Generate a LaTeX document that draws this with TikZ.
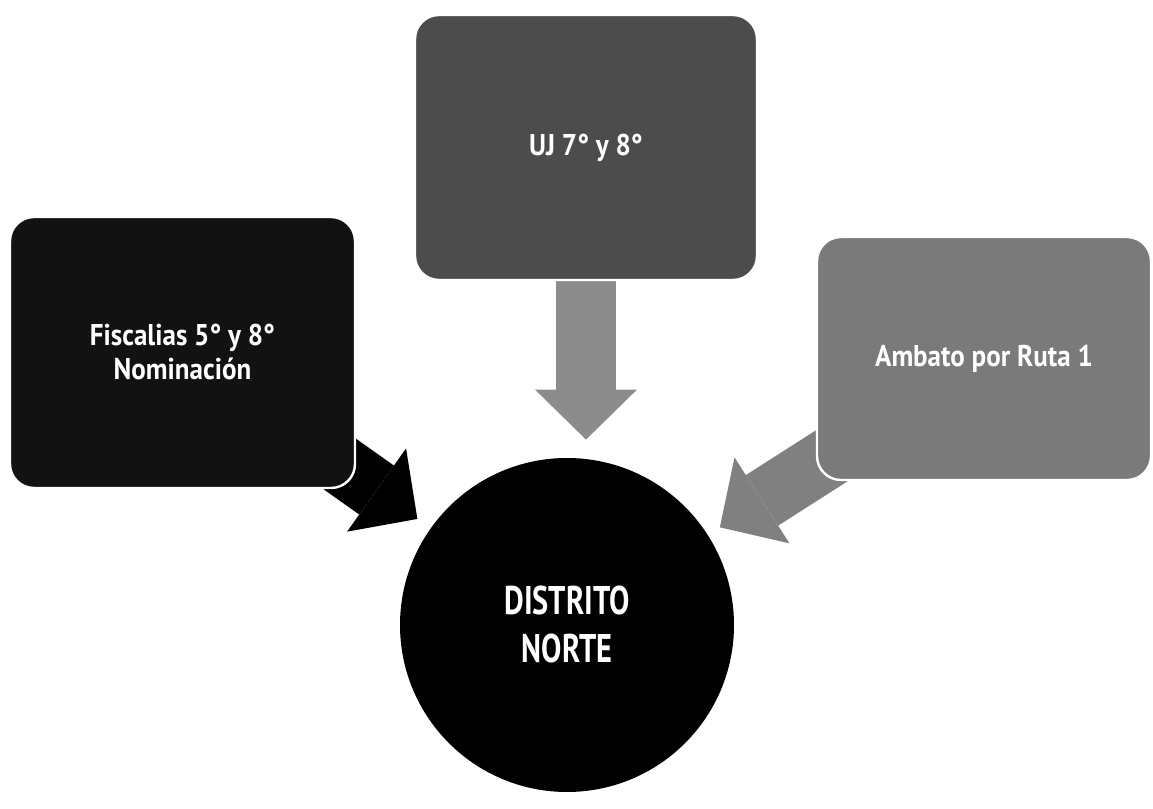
\documentclass[tikz,border=0pt]{standalone}
\usepackage{fontspec}
\setmainfont[FakeStretch=0.9]{PT Sans}
\newfontfamily\narrowfont[FakeStretch=0.76]{PT Sans}
\usetikzlibrary{arrows.meta,backgrounds}
\begin{document}
\begin{tikzpicture}[x=0.5pt,y=0.5pt,font=\fontsize{15}{17}\selectfont\bfseries,
	box/.style={draw=white,line width=1.2pt,rounded corners=12pt,text=white,align=center,inner sep=0pt},
	bigarrow/.style={line width=30pt,-{Triangle[length=25pt,width=51pt,line width=0pt]}}]
	\useasboundingbox (0,0) rectangle (1153,809);
	\path
	(182.5,456.5) node[box,fill=black!93,minimum width=172.5pt,minimum height=135.5pt] (fisc) {Fiscalias 5° y 8°\\Nominación}
	(586,661.5) node[box,fill=black!70,minimum width=171pt,minimum height=132.5pt] (uj) {UJ 7° y 8°}
	(984,450.5) node[box,fill=black!52,minimum width=167pt,minimum height=121.5pt] (amb) {Ambato por Ruta 1}
	(567,184) node[circle,fill=black,text=white,minimum size=167pt,align=center,font=\narrowfont\fontsize{20}{24}\selectfont\bfseries] (dist) {DISTRITO\\NORTE}
	;
	\begin{scope}[on background layer]
	\draw[bigarrow,black,shorten >=8pt] (fisc.center)--(dist);
	\draw[bigarrow,black!45,shorten >=9pt] (uj.center)--(uj.center|-dist.north);
	\draw[bigarrow,black!50,shorten >=7pt] (amb.center)--(dist);
	\end{scope}
\end{tikzpicture}
\end{document}
